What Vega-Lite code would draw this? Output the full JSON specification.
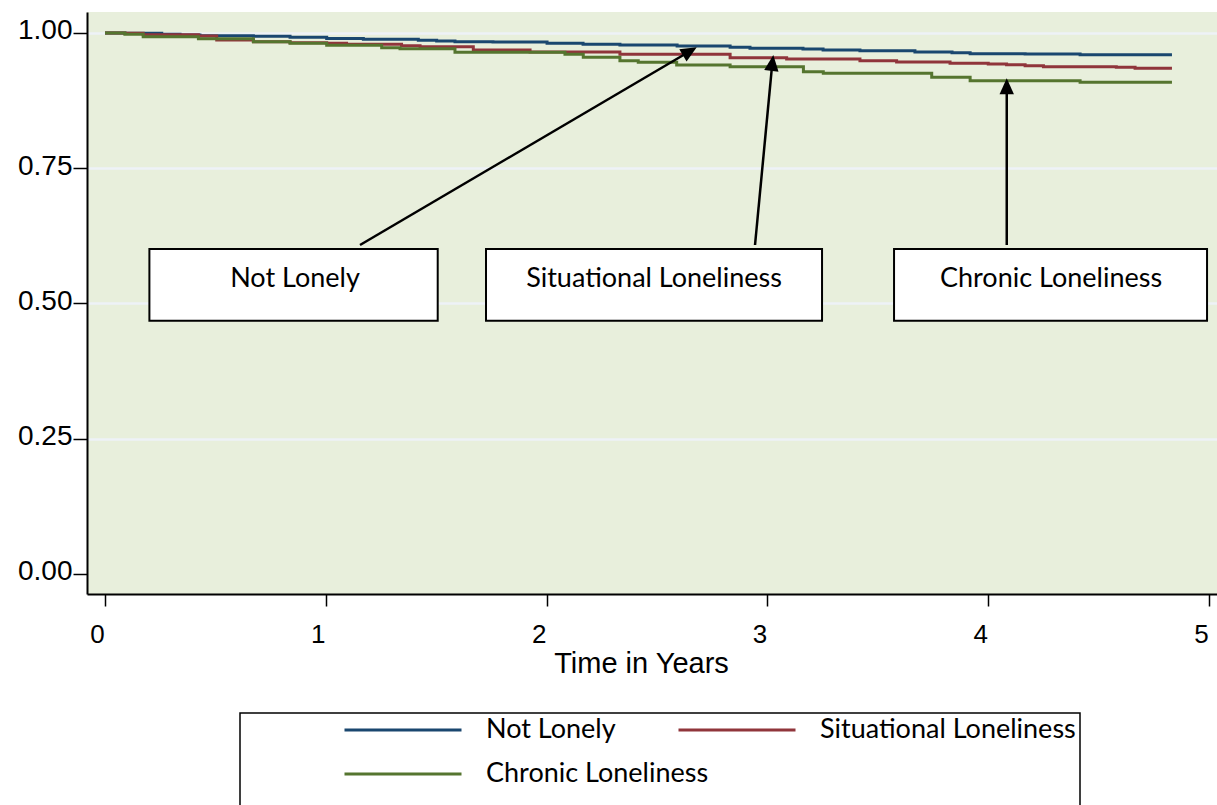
{
  "$schema": "https://vega.github.io/schema/vega-lite/v6.json",
  "width": 1130,
  "height": 582,
  "autosize": {"type": "none"},
  "padding": {"left": 87, "top": 12, "right": 0, "bottom": 211},
  "background": "white",
  "config": {
    "view": {"fill": "#e8efdc", "stroke": null},
    "legend": {"strokeWidth": 1.5}
  },
  "datasets": {
    "curves": [
      {"group": "Not Lonely", "t": 0, "s": 1.0},
      {"group": "Not Lonely", "t": 0.09, "s": 0.9994},
      {"group": "Not Lonely", "t": 0.257, "s": 0.9976},
      {"group": "Not Lonely", "t": 0.34, "s": 0.9963},
      {"group": "Not Lonely", "t": 0.43, "s": 0.995},
      {"group": "Not Lonely", "t": 0.672, "s": 0.9939},
      {"group": "Not Lonely", "t": 0.838, "s": 0.992},
      {"group": "Not Lonely", "t": 1.004, "s": 0.99},
      {"group": "Not Lonely", "t": 1.17, "s": 0.9884},
      {"group": "Not Lonely", "t": 1.419, "s": 0.9865},
      {"group": "Not Lonely", "t": 1.502, "s": 0.9852},
      {"group": "Not Lonely", "t": 1.585, "s": 0.984},
      {"group": "Not Lonely", "t": 1.757, "s": 0.9832},
      {"group": "Not Lonely", "t": 2.002, "s": 0.981},
      {"group": "Not Lonely", "t": 2.165, "s": 0.979},
      {"group": "Not Lonely", "t": 2.332, "s": 0.9778},
      {"group": "Not Lonely", "t": 2.591, "s": 0.976},
      {"group": "Not Lonely", "t": 2.831, "s": 0.9736},
      {"group": "Not Lonely", "t": 2.921, "s": 0.9717},
      {"group": "Not Lonely", "t": 3.161, "s": 0.9704},
      {"group": "Not Lonely", "t": 3.252, "s": 0.9686},
      {"group": "Not Lonely", "t": 3.419, "s": 0.9672},
      {"group": "Not Lonely", "t": 3.668, "s": 0.9649},
      {"group": "Not Lonely", "t": 3.836, "s": 0.9636},
      {"group": "Not Lonely", "t": 3.918, "s": 0.9617},
      {"group": "Not Lonely", "t": 4.167, "s": 0.9612},
      {"group": "Not Lonely", "t": 4.416, "s": 0.9599},
      {"group": "Not Lonely", "t": 4.832, "s": 0.9599},
      {"group": "Situational Loneliness", "t": 0, "s": 1.0},
      {"group": "Situational Loneliness", "t": 0.09, "s": 0.9994},
      {"group": "Situational Loneliness", "t": 0.173, "s": 0.9969},
      {"group": "Situational Loneliness", "t": 0.423, "s": 0.9945},
      {"group": "Situational Loneliness", "t": 0.506, "s": 0.9871},
      {"group": "Situational Loneliness", "t": 0.672, "s": 0.984},
      {"group": "Situational Loneliness", "t": 0.838, "s": 0.982},
      {"group": "Situational Loneliness", "t": 1.004, "s": 0.981},
      {"group": "Situational Loneliness", "t": 1.094, "s": 0.979},
      {"group": "Situational Loneliness", "t": 1.343, "s": 0.9765},
      {"group": "Situational Loneliness", "t": 1.427, "s": 0.9747},
      {"group": "Situational Loneliness", "t": 1.668, "s": 0.9686},
      {"group": "Situational Loneliness", "t": 1.925, "s": 0.9649},
      {"group": "Situational Loneliness", "t": 2.332, "s": 0.9606},
      {"group": "Situational Loneliness", "t": 2.831, "s": 0.9543},
      {"group": "Situational Loneliness", "t": 3.087, "s": 0.9519},
      {"group": "Situational Loneliness", "t": 3.419, "s": 0.9488},
      {"group": "Situational Loneliness", "t": 3.585, "s": 0.9464},
      {"group": "Situational Loneliness", "t": 3.827, "s": 0.944},
      {"group": "Situational Loneliness", "t": 4.0, "s": 0.9427},
      {"group": "Situational Loneliness", "t": 4.083, "s": 0.9414},
      {"group": "Situational Loneliness", "t": 4.167, "s": 0.9396},
      {"group": "Situational Loneliness", "t": 4.25, "s": 0.9377},
      {"group": "Situational Loneliness", "t": 4.58, "s": 0.9366},
      {"group": "Situational Loneliness", "t": 4.665, "s": 0.9347},
      {"group": "Situational Loneliness", "t": 4.832, "s": 0.9347},
      {"group": "Chronic Loneliness", "t": 0, "s": 1.0},
      {"group": "Chronic Loneliness", "t": 0.09, "s": 0.9976},
      {"group": "Chronic Loneliness", "t": 0.173, "s": 0.9932},
      {"group": "Chronic Loneliness", "t": 0.423, "s": 0.9895},
      {"group": "Chronic Loneliness", "t": 0.672, "s": 0.984},
      {"group": "Chronic Loneliness", "t": 0.838, "s": 0.981},
      {"group": "Chronic Loneliness", "t": 1.004, "s": 0.9773},
      {"group": "Chronic Loneliness", "t": 1.253, "s": 0.9729},
      {"group": "Chronic Loneliness", "t": 1.336, "s": 0.971},
      {"group": "Chronic Loneliness", "t": 1.585, "s": 0.9643},
      {"group": "Chronic Loneliness", "t": 2.083, "s": 0.9606},
      {"group": "Chronic Loneliness", "t": 2.166, "s": 0.955},
      {"group": "Chronic Loneliness", "t": 2.332, "s": 0.9488},
      {"group": "Chronic Loneliness", "t": 2.415, "s": 0.9458},
      {"group": "Chronic Loneliness", "t": 2.589, "s": 0.9409},
      {"group": "Chronic Loneliness", "t": 2.831, "s": 0.9377},
      {"group": "Chronic Loneliness", "t": 3.163, "s": 0.9285},
      {"group": "Chronic Loneliness", "t": 3.253, "s": 0.9255},
      {"group": "Chronic Loneliness", "t": 3.744, "s": 0.9181},
      {"group": "Chronic Loneliness", "t": 3.918, "s": 0.9118},
      {"group": "Chronic Loneliness", "t": 4.416, "s": 0.9089},
      {"group": "Chronic Loneliness", "t": 4.832, "s": 0.9089}
    ],
    "boxes": [
      {"label": "Not Lonely", "t": 0.2011, "t2": 1.5068, "s": 0.6007, "s2": 0.4682, "tc": 0.8605, "sc": 0.53},
      {"label": "Situational Loneliness", "t": 1.7255, "t2": 3.2473, "s": 0.6007, "s2": 0.4682, "tc": 2.4864, "sc": 0.53},
      {"label": "Chronic Loneliness", "t": 3.5734, "t2": 4.9909, "s": 0.6007, "s2": 0.4682, "tc": 4.2844, "sc": 0.53}
    ],
    "arrows": [
      {"label": "Not Lonely", "t": 1.1549, "s": 0.6081, "t2": 2.6486, "s2": 0.9662, "tt": 2.6798, "st": 0.9736},
      {"label": "Situational Loneliness", "t": 2.9438, "s": 0.6081, "t2": 3.0222, "s2": 0.9447, "tt": 3.0267, "st": 0.9593},
      {"label": "Chronic Loneliness", "t": 4.0838, "s": 0.6081, "t2": 4.0838, "s2": 0.9015, "tt": 4.0838, "st": 0.9163}
    ]
  },
  "layer": [
    {
      "data": {"name": "curves"},
      "mark": {"type": "line", "interpolate": "step-after", "strokeWidth": 3},
      "encoding": {
        "x": {"field": "t", "type": "quantitative", "title": "Time in Years",
          "scale": {"domain": [-0.0815, 5.036], "nice": false, "zero": false},
          "axis": {"values": [0, 1, 2, 3, 4, 5], "format": "d", "grid": false,
            "labelFont": "Liberation Sans", "labelFontSize": 26, "labelColor": "black", "labelOffset": -8, "labelPadding": 15,
            "tickColor": "black", "tickSize": 12, "tickWidth": 1.5,
            "domainColor": "black", "domainWidth": 2,
            "titleFont": "Liberation Sans", "titleFontSize": 29, "titleFontWeight": "normal", "titleColor": "black", "titlePadding": 2, "titleX": 554}},
        "y": {"field": "s", "type": "quantitative", "title": null,
          "scale": {"domain": [-0.037, 1.0388], "nice": false, "zero": false},
          "axis": {"values": [0, 0.25, 0.5, 0.75, 1], "format": ".2f", "grid": true,
            "gridColor": {"condition": {"test": "datum.value == 0", "value": "transparent"}, "value": "#eef2f7"}, "gridWidth": 2.5,
            "labelFont": "Liberation Sans", "labelFontSize": 28, "labelColor": "black", "labelPadding": 1, "labelOffset": -2,
            "tickColor": "black", "tickSize": 14, "tickWidth": 1.5,
            "domainColor": "black", "domainWidth": 2}},
        "color": {"field": "group", "type": "nominal",
          "scale": {"domain": ["Not Lonely", "Situational Loneliness", "Chronic Loneliness"], "range": ["#1a476f", "#90353b", "#55752f"]},
          "legend": {"orient": "none", "legendX": 153, "legendY": 701, "direction": "horizontal", "columns": 2, "gridAlign": "none",
            "columnPadding": -32, "rowPadding": 17, "clipHeight": 26, "symbolType": "stroke", "symbolSize": 13689, "symbolStrokeWidth": 3,
            "labelFont": "Lato", "labelFontSize": 27, "labelOffset": 23, "labelColor": "black", "labelLimit": 400,
            "padding": 4, "strokeColor": "black", "fillColor": "white",
            "title": ".", "titleOrient": "left", "titleAnchor": "start", "titleBaseline": "top", "titlePadding": 75, "titleFontSize": 86, "titleLineHeight": 86,
            "titleOpacity": 0, "titleColor": "white", "titleFont": "Liberation Sans"}}
      }
    },
    {
      "data": {"name": "arrows"},
      "mark": {"type": "rule", "color": "black", "strokeWidth": 2.5},
      "encoding": {
        "x": {"field": "t", "type": "quantitative", "title": "Time in Years", "scale": {"domain": [-0.0815, 5.036], "nice": false, "zero": false}},
        "y": {"field": "s", "type": "quantitative", "title": null, "scale": {"domain": [-0.037, 1.0388], "nice": false, "zero": false}},
        "x2": {"field": "t2"},
        "y2": {"field": "s2"}
      }
    },
    {
      "data": {"name": "arrows"},
      "transform": [{"filter": "datum.label == 'Not Lonely'"}],
      "mark": {"type": "point", "shape": "M0,0L-0.45,1L0.45,1Z", "size": 1024, "filled": true, "color": "black", "opacity": 1, "angle": 59.6},
      "encoding": {
        "x": {"field": "tt", "type": "quantitative", "title": "Time in Years", "scale": {"domain": [-0.0815, 5.036], "nice": false, "zero": false}},
        "y": {"field": "st", "type": "quantitative", "title": null, "scale": {"domain": [-0.037, 1.0388], "nice": false, "zero": false}}
      }
    },
    {
      "data": {"name": "arrows"},
      "transform": [{"filter": "datum.label == 'Situational Loneliness'"}],
      "mark": {"type": "point", "shape": "M0,0L-0.45,1L0.45,1Z", "size": 1024, "filled": true, "color": "black", "opacity": 1, "angle": 7},
      "encoding": {
        "x": {"field": "tt", "type": "quantitative", "title": "Time in Years", "scale": {"domain": [-0.0815, 5.036], "nice": false, "zero": false}},
        "y": {"field": "st", "type": "quantitative", "title": null, "scale": {"domain": [-0.037, 1.0388], "nice": false, "zero": false}}
      }
    },
    {
      "data": {"name": "arrows"},
      "transform": [{"filter": "datum.label == 'Chronic Loneliness'"}],
      "mark": {"type": "point", "shape": "M0,0L-0.45,1L0.45,1Z", "size": 1024, "filled": true, "color": "black", "opacity": 1, "angle": 0},
      "encoding": {
        "x": {"field": "tt", "type": "quantitative", "title": "Time in Years", "scale": {"domain": [-0.0815, 5.036], "nice": false, "zero": false}},
        "y": {"field": "st", "type": "quantitative", "title": null, "scale": {"domain": [-0.037, 1.0388], "nice": false, "zero": false}}
      }
    },
    {
      "data": {"name": "boxes"},
      "mark": {"type": "rect", "fill": "white", "stroke": "black", "strokeWidth": 2},
      "encoding": {
        "x": {"field": "t", "type": "quantitative", "title": "Time in Years", "scale": {"domain": [-0.0815, 5.036], "nice": false, "zero": false}},
        "y": {"field": "s", "type": "quantitative", "title": null, "scale": {"domain": [-0.037, 1.0388], "nice": false, "zero": false}},
        "x2": {"field": "t2"},
        "y2": {"field": "s2"}
      }
    },
    {
      "data": {"name": "boxes"},
      "mark": {"type": "text", "font": "Lato", "fontSize": 27, "color": "black", "align": "center", "baseline": "alphabetic"},
      "encoding": {
        "x": {"field": "tc", "type": "quantitative", "title": "Time in Years", "scale": {"domain": [-0.0815, 5.036], "nice": false, "zero": false}},
        "y": {"field": "sc", "type": "quantitative", "title": null, "scale": {"domain": [-0.037, 1.0388], "nice": false, "zero": false}},
        "text": {"field": "label"}
      }
    }
  ]
}
